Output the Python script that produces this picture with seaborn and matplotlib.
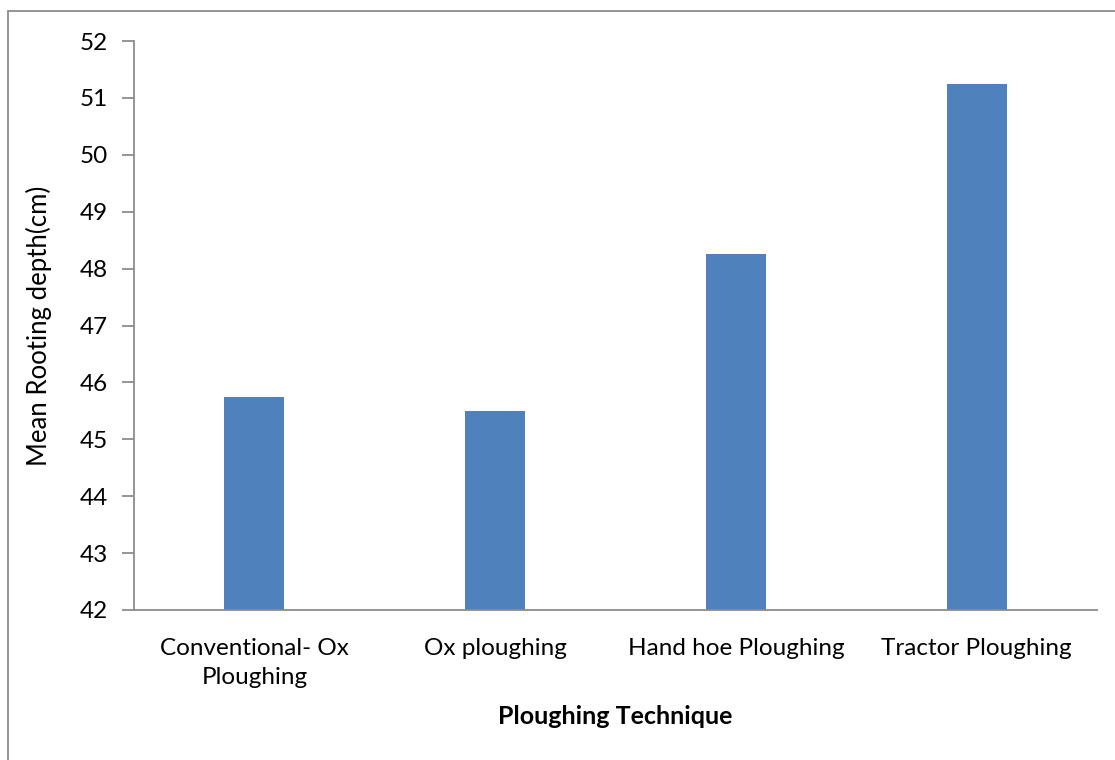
import matplotlib
matplotlib.use("Agg")
import matplotlib.pyplot as plt
from matplotlib.lines import Line2D
import seaborn as sns
import pandas as pd

# Mean rooting depth by ploughing technique
techniques = ["Conventional- Ox\nPloughing", "Ox ploughing", "Hand hoe Ploughing", "Tractor Ploughing"]
rooting_depth = [45.75, 45.5, 48.25, 51.25]
y_ticks = [42, 43, 44, 45, 46, 47, 48, 49, 50, 51, 52]

sns.set_theme(style="white")
plt.rcParams["font.family"] = ["Lato", "DejaVu Sans"]
plt.rcParams["text.color"] = "black"
plt.rcParams["axes.labelcolor"] = "black"
plt.rcParams["xtick.color"] = "black"
plt.rcParams["ytick.color"] = "black"

df = pd.DataFrame({"technique": techniques, "depth": rooting_depth})

fig = plt.figure(figsize=(11.15, 7.6), dpi=100)
ax = fig.add_axes([0.1202, 0.1974, 0.8637, 0.7486])

sns.barplot(data=df, x="technique", y="depth", color="#4F81BD", saturation=1,
            width=0.25, ax=ax, edgecolor="none")

ax.set_ylim(42, 52)
ax.set_yticks(y_ticks)
ax.set_yticklabels([str(v) for v in y_ticks])
ax.set_xlim(-0.5, len(techniques) - 0.5)

for side in ("top", "right"):
    ax.spines[side].set_visible(False)
for side in ("left", "bottom"):
    ax.spines[side].set_color("#8c8c8c")
    ax.spines[side].set_linewidth(1.3)

ax.tick_params(axis="y", direction="out", length=9, width=1.3, color="#8c8c8c",
               labelcolor="black", labelsize=17.5, pad=10, left=True)
ax.tick_params(axis="x", length=0, labelcolor="black", labelsize=17.5, pad=20)
for lbl in ax.get_xticklabels():
    lbl.set_linespacing(1.5)

ax.set_xlabel("Ploughing Technique", fontsize=18, fontweight="bold", labelpad=12)
ax.set_ylabel("Mean Rooting depth(cm)", fontsize=18.5, labelpad=20)

# frame around the chart area
fig.add_artist(Line2D([0.0072, 0.0072], [-0.1, 0.9855], transform=fig.transFigure,
                      color="#8c8c8c", linewidth=1.3))
fig.add_artist(Line2D([0.0072, 1.1], [0.9855, 0.9855], transform=fig.transFigure,
                      color="#8c8c8c", linewidth=1.3))

fig.savefig("out.png", dpi=100, facecolor="white")
